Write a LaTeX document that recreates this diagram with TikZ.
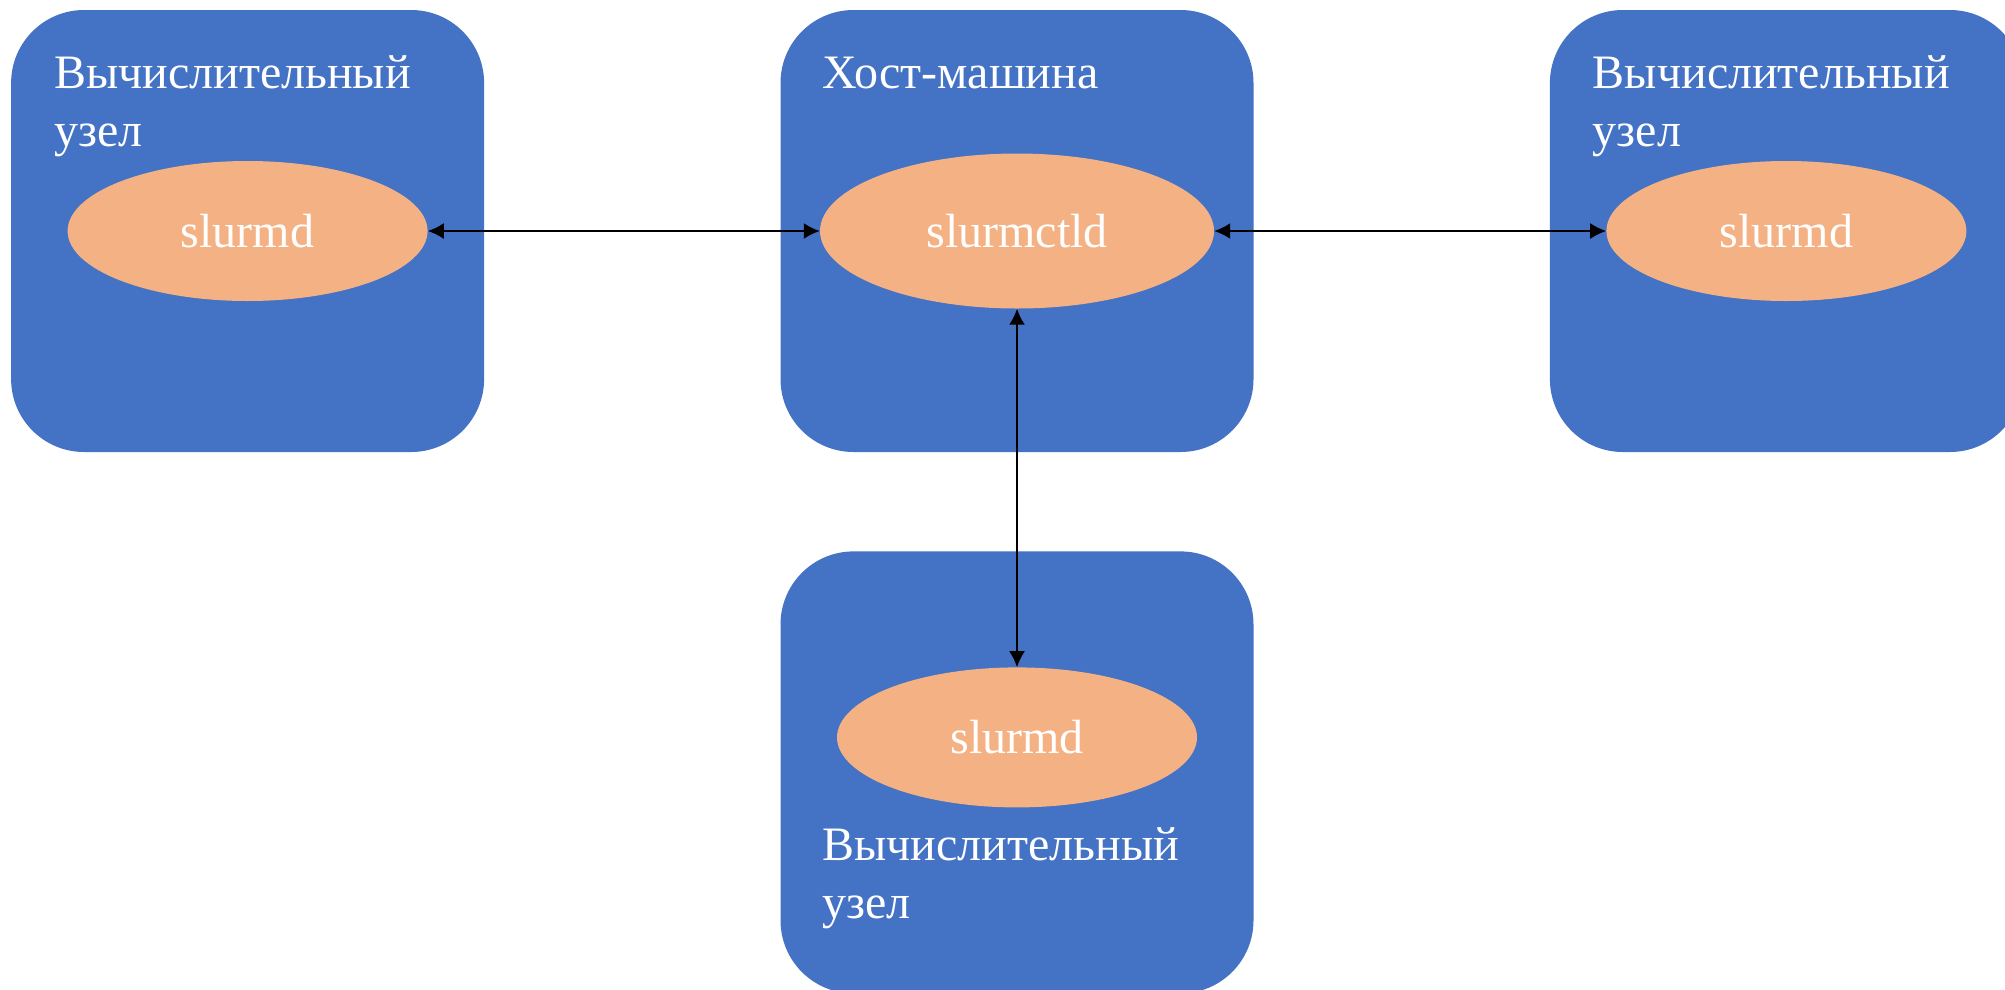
\documentclass[tikz,border=0pt]{standalone}
\usepackage{fontspec}
\setmainfont{Liberation Serif}
\usetikzlibrary{shapes.geometric,arrows.meta,positioning}
\definecolor{nodeblue}{HTML}{4472C4}
\definecolor{daemonorange}{HTML}{F4B183}

\begin{document}
\begin{tikzpicture}[
    x=1pt, y=-1pt,
    machine/.style={rectangle, fill=nodeblue, rounded corners=73pt, minimum width=473pt, minimum height=442pt, inner sep=0pt},
    daemon/.style={ellipse, fill=daemonorange, minimum width=360pt, minimum height=140pt, inner sep=0pt, text=white, font=\fontsize{48}{58}\selectfont},
    title/.style={anchor=base west, inner sep=0pt, align=left, text=white, font=\fontsize{48}{58}\selectfont},
    link/.style={{Latex[length=16pt,width=16pt]}-{Latex[length=16pt,width=16pt]}, line width=2pt}
]
\useasboundingbox (0,0) rectangle (2005,989);

% machines
\node[machine] (host) at (1017,231) {};
\node[machine, left=296pt of host] (nodeL) {};
\node[machine, right=296pt of host] (nodeR) {};
\node[machine, below=99pt of host] (nodeB) {};

% captions (base = last line)
\node[title] (titleH) at ([xshift=42pt,yshift=-79pt]host.north west) {Хост-машина};
\node[title] (titleL) at ([xshift=43pt,yshift=-137pt]nodeL.north west) {Вычислительный\\узел};
\node[title] (titleR) at ([xshift=43pt,yshift=-137pt]nodeR.north west) {Вычислительный\\узел};
\node[title] (titleB) at ([xshift=42pt,yshift=-367pt]nodeB.north west) {Вычислительный\\узел};

% daemons
\node[daemon, minimum width=394pt, minimum height=155pt] (ctld) at (host.center) {slurmctld};
\node[daemon] (slurmdL) at (nodeL.center) {slurmd};
\node[daemon] (slurmdR) at (nodeR.center) {slurmd};
\node[daemon] (slurmdB) at ([yshift=35pt]nodeB.center) {slurmd};

\draw[link] (slurmdL) -- (ctld);
\draw[link] (ctld) -- (slurmdR);
\draw[link] (ctld) -- (slurmdB);

\end{tikzpicture}
\end{document}
